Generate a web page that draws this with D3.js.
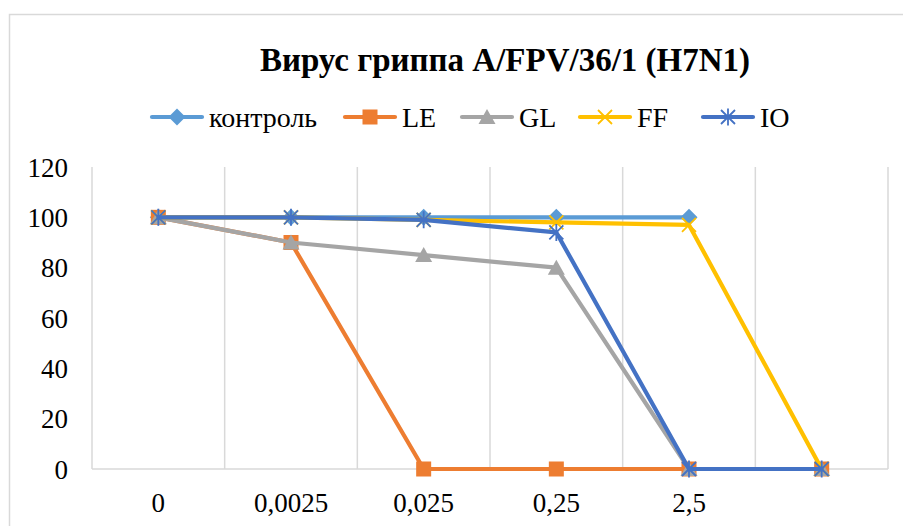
<!DOCTYPE html>
<html>
<head>
<meta charset="utf-8">
<script src="https://cdn.jsdelivr.net/npm/d3@7"></script>
<style>
  html, body { margin: 0; padding: 0; background: #fff; }
  svg { display: block; font-family: "Liberation Serif", "Times New Roman", serif; }
</style>
</head>
<body>
<svg id="chart" width="903" height="526"></svg>
<script>
// Dose categories (the last one has no label)
const categories = ["0", "0,0025", "0,025", "0,25", "2,5", ""];
const yTicks = [0, 20, 40, 60, 80, 100, 120];

const seriesNames = ["контроль", "LE", "GL", "FF", "IO"];
const control = [100, 100, 100, 100, 100, null];
const le      = [100, 90, 0, 0, 0, 0];
const gl      = [100, 90, 85, 80, 0, 0];
const ff      = [100, 100, 99, 98, 97, 0];
const io      = [100, 100, 99, 94, 0, 0];

const colors  = ["#5B9BD5", "#ED7D31", "#A5A5A5", "#FFC000", "#4472C4"];
const shapes  = ["diamond", "square", "triangle", "cross", "asterisk"];
const values  = [control, le, gl, ff, io];

const svg = d3.select("#chart");
const W = 903, H = 526;
const plot = { left: 92, right: 888, top: 167, bottom: 469 };
const FONT = "Liberation Serif, Times New Roman, serif";

// Outer chart frame
svg.append("rect")
  .attr("x", 9.5).attr("y", 14.5)
  .attr("width", W).attr("height", H)
  .attr("fill", "#fff").attr("stroke", "#d9d9d9").attr("stroke-width", 1.5);

// Title
svg.append("text")
  .attr("x", 505).attr("y", 71)
  .attr("text-anchor", "middle")
  .attr("font-size", 33).attr("font-weight", "bold")
  .attr("fill", "#000")
  .text("Вирус гриппа A/FPV/36/1 (H7N1)");

const x = d3.scaleBand().domain(d3.range(categories.length))
  .range([plot.left, plot.right]).paddingInner(0).paddingOuter(0);
const y = d3.scaleLinear().domain([0, 120]).range([plot.bottom, plot.top]);
const cx = i => x(i) + x.bandwidth() / 2;

// Vertical gridlines at category boundaries
const bounds = d3.range(categories.length + 1).map(i => plot.left + i * x.bandwidth());
svg.append("g").selectAll("line").data(bounds).join("line")
  .attr("x1", d => d).attr("x2", d => d)
  .attr("y1", plot.top).attr("y2", plot.bottom)
  .attr("stroke", "#d9d9d9").attr("stroke-width", 1.5);

// Category axis line
svg.append("line")
  .attr("x1", plot.left).attr("x2", plot.right)
  .attr("y1", plot.bottom).attr("y2", plot.bottom)
  .attr("stroke", "#d9d9d9").attr("stroke-width", 1.5);

// Y axis labels
const yAxis = d3.axisLeft(y).tickValues(yTicks).tickSize(0).tickPadding(0);
const gy = svg.append("g").attr("transform", `translate(68,0)`).call(yAxis);
gy.select(".domain").remove();
gy.attr("font-family", FONT);
gy.selectAll("text")
  .attr("font-family", FONT)
  .attr("font-size", 27).attr("fill", "#000").attr("dy", "0.34em");

// X axis labels
const xAxis = d3.axisBottom(x).tickFormat(i => categories[i]).tickSize(0).tickPadding(0);
const gx = svg.append("g").attr("transform", `translate(0,${plot.bottom})`).call(xAxis);
gx.select(".domain").remove();
gx.attr("font-family", FONT);
gx.selectAll("text")
  .attr("font-family", FONT)
  .attr("font-size", 27).attr("fill", "#000")
  .attr("y", 0).attr("dy", 43);

// Marker drawing
function drawMarker(g, shape, color, px, py) {
  if (shape === "diamond") {
    g.append("path").attr("d", `M${px},${py-8.5}L${px+8.5},${py}L${px},${py+8.5}L${px-8.5},${py}Z`)
      .attr("fill", color);
  } else if (shape === "square") {
    g.append("rect").attr("x", px - 7.5).attr("y", py - 7.5)
      .attr("width", 15).attr("height", 15).attr("fill", color);
  } else if (shape === "triangle") {
    g.append("path").attr("d", `M${px},${py-8}L${px+8.5},${py+7}L${px-8.5},${py+7}Z`)
      .attr("fill", color);
  } else if (shape === "cross") {
    g.append("path").attr("d", `M${px-7},${py-7}L${px+7},${py+7}M${px+7},${py-7}L${px-7},${py+7}`)
      .attr("stroke", color).attr("stroke-width", 1.8).attr("fill", "none");
  } else if (shape === "asterisk") {
    g.append("path").attr("d",
      `M${px-7},${py-7}L${px+7},${py+7}M${px+7},${py-7}L${px-7},${py+7}M${px},${py-8.5}L${px},${py+8.5}`)
      .attr("stroke", color).attr("stroke-width", 1.8).attr("fill", "none");
  }
}

// Series lines and markers
const line = d3.line()
  .defined(d => d.v !== null)
  .x(d => cx(d.i)).y(d => y(d.v));

values.forEach((vals, s) => {
  const g = svg.append("g");
  const pts = vals.map((v, i) => ({ i, v }));
  g.append("path").datum(pts)
    .attr("d", line)
    .attr("fill", "none").attr("stroke", colors[s])
    .attr("stroke-width", 4.2).attr("stroke-linejoin", "round").attr("stroke-linecap", "round");
  pts.filter(d => d.v !== null).forEach(d => drawMarker(g, shapes[s], colors[s], cx(d.i), y(d.v)));
});

// Legend
const legendX = [152, 345, 462, 580, 703];
const legendY = 117;
seriesNames.forEach((name, s) => {
  const g = svg.append("g");
  const lx = legendX[s];
  g.append("line").attr("x1", lx).attr("x2", lx + 50)
    .attr("y1", legendY).attr("y2", legendY)
    .attr("stroke", colors[s]).attr("stroke-width", 4.2).attr("stroke-linecap", "round");
  drawMarker(g, shapes[s], colors[s], lx + 25, legendY);
  g.append("text").attr("x", lx + 57).attr("y", legendY).attr("dy", "0.35em")
    .attr("font-size", 28).attr("font-family", FONT).attr("fill", "#000").text(name);
});
</script>
</body>
</html>
